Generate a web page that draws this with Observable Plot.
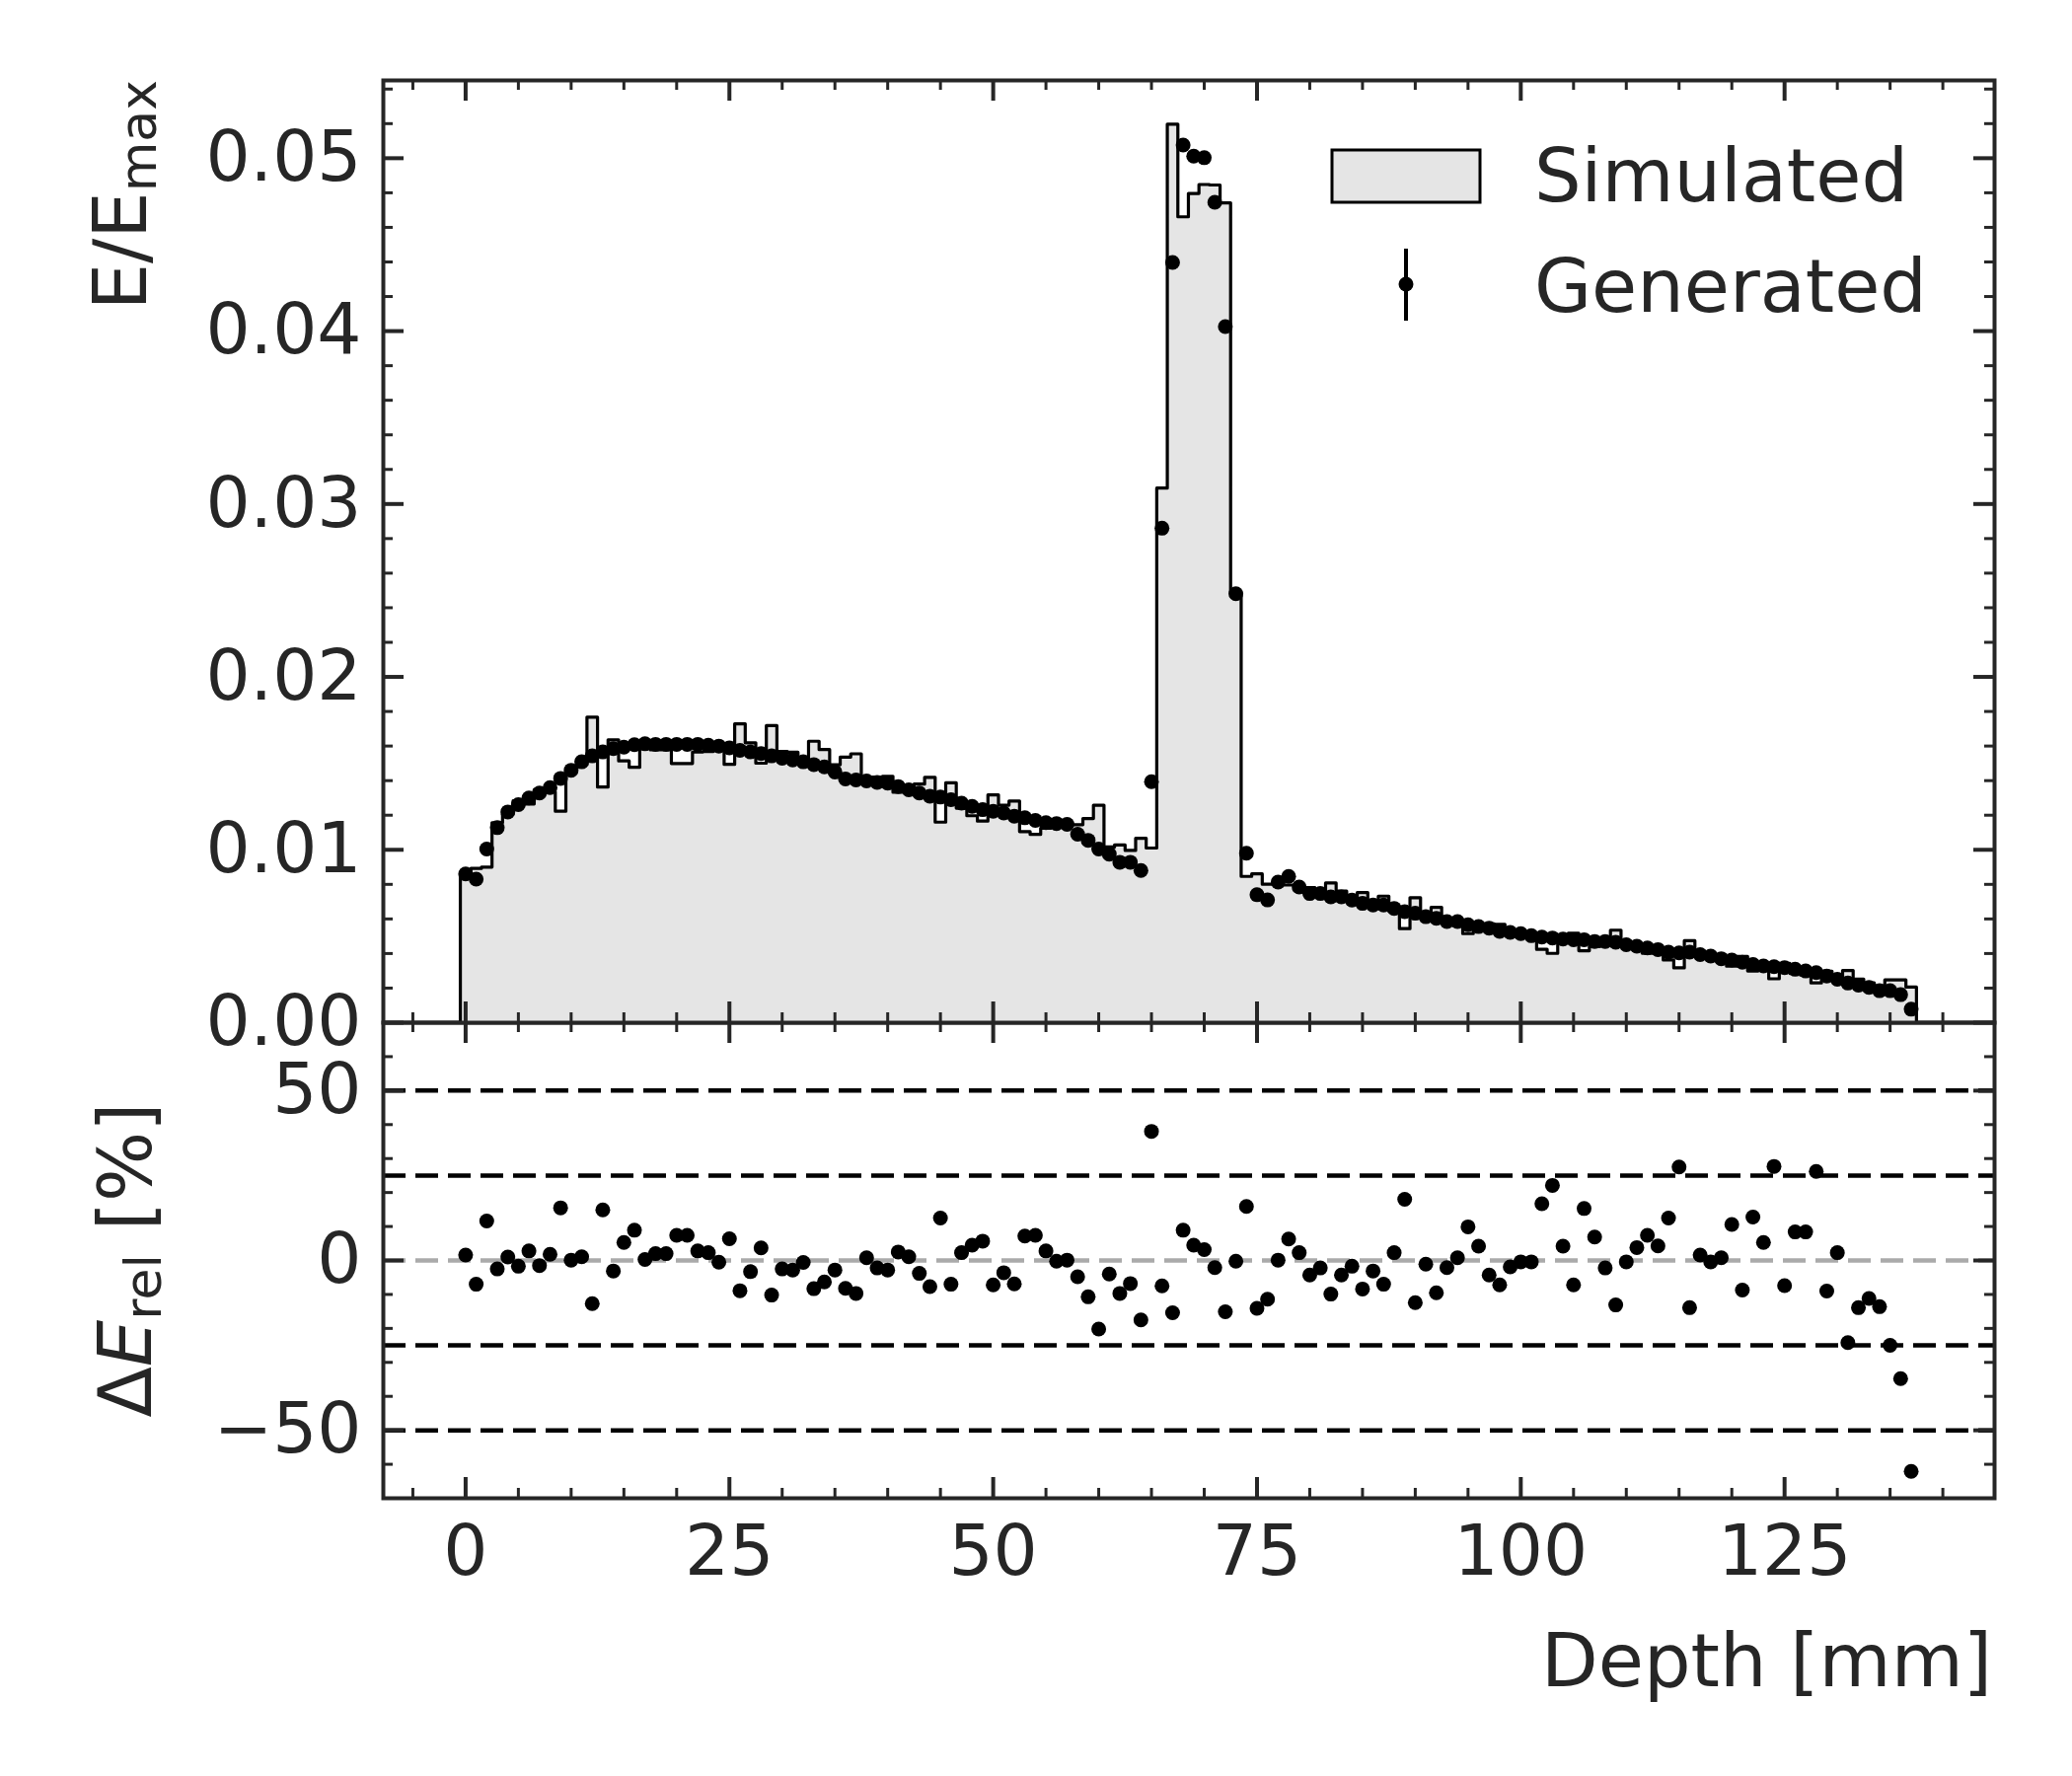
<!DOCTYPE html>
<html>
<head>
<meta charset="utf-8">
<script src="https://cdn.jsdelivr.net/npm/d3@7"></script>
<script src="https://cdn.jsdelivr.net/npm/@observablehq/plot@0.6"></script>
<style>
html, body { margin: 0; padding: 0; background: #ffffff; overflow: hidden; }
#chart { position: relative; width: 2100px; height: 1800px; background: #ffffff; }
#chart svg { position: absolute; left: 0; top: 0; }
</style>
</head>
<body>
<div id="chart"></div>
<script>
// ---------------- DATA ----------------
const depthMM = [0,1,2,3,4,5,6,7,8,9,10,11,12,13,14,15,16,17,18,19,20,21,22,23,24,25,26,27,28,29,
30,31,32,33,34,35,36,37,38,39,40,41,42,43,44,45,46,47,48,49,50,51,52,53,54,55,56,57,58,59,
60,61,62,63,64,65,66,67,68,69,70,71,72,73,74,75,76,77,78,79,80,81,82,83,84,85,86,87,88,89,
90,91,92,93,94,95,96,97,98,99,100,101,102,103,104,105,106,107,108,109,110,111,112,113,114,115,116,117,118,119,
120,121,122,123,124,125,126,127,128,129,130,131,132,133,134,135,136,137];

const simulated = [
0.00846,0.00892,0.00900,0.01157,0.01207,0.01283,0.01265,0.01348,0.01336,0.01223,
0.01459,0.01493,0.01767,0.01363,0.01636,0.01514,0.01477,0.01608,0.01578,0.01578,
0.01499,0.01499,0.01566,0.01569,0.01608,0.01494,0.01729,0.01619,0.01501,0.01718,
0.01569,0.01564,0.01518,0.01628,0.01580,0.01492,0.01536,0.01555,0.01387,0.01421,
0.01425,0.01333,0.01332,0.01380,0.01419,0.01160,0.01387,0.01241,0.01197,0.01166,
0.01318,0.01258,0.01282,0.01105,0.01089,0.01125,0.01154,0.01146,0.01145,0.01181,
0.01258,0.01016,0.01028,0.00996,0.01067,0.01010,0.03092,0.05197,0.04661,0.04796,
0.04848,0.04845,0.04742,0.02486,0.00846,0.00861,0.00801,0.00812,0.00796,0.00767,
0.00781,0.00764,0.00808,0.00761,0.00721,0.00753,0.00703,0.00732,0.00646,0.00544,
0.00723,0.00620,0.00667,0.00598,0.00580,0.00515,0.00534,0.00572,0.00569,0.00532,
0.00517,0.00505,0.00424,0.00401,0.00464,0.00517,0.00416,0.00440,0.00481,0.00535,
0.00453,0.00426,0.00402,0.00406,0.00363,0.00317,0.00474,0.00388,0.00387,0.00367,
0.00327,0.00383,0.00299,0.00311,0.00254,0.00343,0.00285,0.00276,0.00230,0.00297,
0.00245,0.00302,0.00252,0.00230,0.00214,0.00247,0.00248,0.00206];

const generated = [
0.00860,0.00830,0.01004,0.01128,0.01219,0.01261,0.01300,0.01328,0.01360,0.01413,
0.01460,0.01509,0.01543,0.01566,0.01585,0.01594,0.01608,0.01613,0.01610,0.01610,
0.01610,0.01610,0.01610,0.01605,0.01600,0.01590,0.01575,0.01566,0.01557,0.01543,
0.01530,0.01520,0.01509,0.01493,0.01480,0.01450,0.01410,0.01404,0.01398,0.01390,
0.01385,0.01366,0.01347,0.01328,0.01310,0.01305,0.01290,0.01270,0.01251,0.01232,
0.01223,0.01213,0.01194,0.01185,0.01170,0.01157,0.01152,0.01147,0.01090,0.01055,
0.01004,0.00975,0.00928,0.00928,0.00880,0.01394,0.02860,0.04397,0.05076,0.05012,
0.05003,0.04745,0.04026,0.02481,0.00980,0.00740,0.00710,0.00813,0.00846,0.00785,
0.00747,0.00747,0.00728,0.00728,0.00709,0.00690,0.00681,0.00681,0.00661,0.00642,
0.00633,0.00613,0.00604,0.00585,0.00585,0.00566,0.00556,0.00547,0.00528,0.00522,
0.00515,0.00503,0.00495,0.00490,0.00484,0.00480,0.00480,0.00470,0.00470,0.00465,
0.00451,0.00442,0.00432,0.00423,0.00408,0.00404,0.00408,0.00394,0.00385,0.00370,
0.00362,0.00350,0.00337,0.00328,0.00324,0.00318,0.00309,0.00299,0.00290,0.00270,
0.00251,0.00229,0.00217,0.00204,0.00185,0.00185,0.00162,0.00078];

const deltaRel = [
1.6,-7,11.6,-2.5,1,-1.7,2.8,-1.5,1.8,15.5,
0.1,1.1,-12.7,14.9,-3.1,5.3,8.9,0.3,2,2,
7.4,7.4,2.8,2.3,-0.5,6.4,-8.9,-3.3,3.7,-10.2,
-2.5,-2.8,-0.6,-8.3,-6.3,-2.8,-8.2,-9.7,0.8,-2.2,
-2.8,2.5,1.1,-3.8,-7.7,12.5,-7,2.3,4.5,5.7,
-7.2,-3.6,-6.9,7.2,7.4,2.8,-0.2,0.1,-4.8,-10.7,
-20.2,-4,-9.7,-6.8,-17.5,38,-7.5,-15.4,8.9,4.5,
3.2,-2.1,-15.1,-0.2,15.9,-14.1,-11.4,0.1,6.3,2.3,
-4.3,-2.2,-9.9,-4.3,-1.7,-8.4,-3.1,-7,2.3,18,
-12.4,-1.1,-9.5,-2.1,0.8,9.9,4.2,-4.3,-7.2,-1.9,
-0.4,-0.4,16.7,22.1,4.2,-7.2,15.3,6.9,-2.2,-13.1,
-0.4,3.8,7.4,4.3,12.5,27.5,-13.9,1.6,-0.4,0.8,
10.6,-8.7,12.8,5.3,27.7,-7.4,8.4,8.4,26.2,-9,
2.3,-24.2,-13.9,-11.2,-13.6,-25,-34.8,-62.1];

const xTicks = [0, 25, 50, 75, 100, 125];
const yTicksTop = [0, 0.01, 0.02, 0.03, 0.04, 0.05];
const yTicksBottom = [-50, 0, 50];
const dashedLines = [-50, -25, 25, 50];
const zeroLine = [0];

// ---------------- LAYOUT ----------------
const W = 2100, H = 1800;
const L = 388, R = 2021, T = 81, M = 1036, B = 1518;
const FW = R - L, TH = M - T, BH = B - M;
const xDomain = [-7.8, 144.9];
const ink = "#262626";
const font = "DejaVu Sans";
const majLen = 21, minLen = 10;

const xMinor = d3.range(-5, 145, 5).filter(d => d % 25 !== 0);
const yMinorTop = d3.range(0.002, 0.0545, 0.002).filter(d => Math.abs(d / 0.01 - Math.round(d / 0.01)) > 1e-6);
const yMinorBottom = [-60, -40, -30, -20, -10, 10, 20, 30, 40, 60];

// histogram outline built from bin centres (bin width 1 mm)
const outline = [{x: depthMM[0] - 0.5, y: 0}];
depthMM.forEach((d, i) => {
  outline.push({x: d - 0.5, y: simulated[i]});
  outline.push({x: d + 0.5, y: simulated[i]});
});
outline.push({x: depthMM[depthMM.length - 1] + 0.5, y: 0});

const genPts = depthMM.map((d, i) => ({x: d, y: generated[i]}));
const relPts = depthMM.map((d, i) => ({x: d, y: deltaRel[i]}));

function sideTicksY(vals, len, w) {
  return [
    Plot.tickY(vals, {y: d => d, stroke: ink, strokeWidth: w, insetRight: FW - len}),
    Plot.tickY(vals, {y: d => d, stroke: ink, strokeWidth: w, insetLeft: FW - len})
  ];
}
function sideTicksX(vals, len, w, h) {
  return [
    Plot.tickX(vals, {x: d => d, stroke: ink, strokeWidth: w, insetTop: h - len}),
    Plot.tickX(vals, {x: d => d, stroke: ink, strokeWidth: w, insetBottom: h - len})
  ];
}

const topPlot = Plot.plot({
  width: W, height: H,
  marginLeft: L, marginRight: W - R, marginTop: T, marginBottom: H - M,
  style: {background: "transparent", fontFamily: font, overflow: "visible"},
  x: {domain: xDomain, axis: null},
  y: {domain: [0, 0.0545]},
  marks: [
    Plot.areaY(outline, {x: "x", y1: 0, y2: "y", fill: "#e5e5e5", curve: "linear"}),
    Plot.line(outline, {x: "x", y: "y", stroke: "#000000", strokeWidth: 3.2, curve: "linear"}),
    Plot.dot(genPts, {x: "x", y: "y", r: 7.5, fill: "#000000"}),
    ...sideTicksY(yMinorTop, minLen, 3),
    ...sideTicksY(yTicksTop, majLen, 4),
    ...sideTicksX(xMinor, minLen, 3, TH),
    ...sideTicksX(xTicks, majLen, 4, TH),
    Plot.axisY(yTicksTop, {anchor: "left", tickSize: 0, tickPadding: 22, tickFormat: d3.format(".2f"),
      fontSize: 71, fontFamily: font, fill: ink, label: null}),
    Plot.frame({stroke: ink, strokeWidth: 4})
  ]
});

const bottomPlot = Plot.plot({
  width: W, height: H,
  marginLeft: L, marginRight: W - R, marginTop: M, marginBottom: H - B,
  style: {background: "transparent", fontFamily: font, overflow: "visible"},
  x: {domain: xDomain},
  y: {domain: [-70, 70]},
  marks: [
    Plot.ruleY(zeroLine, {y: d => d, stroke: "#aaaaaa", strokeWidth: 4.5, strokeDasharray: "23,10"}),
    Plot.ruleY(dashedLines, {y: d => d, stroke: "#000000", strokeWidth: 4.5, strokeDasharray: "23,10"}),
    Plot.dot(relPts, {x: "x", y: "y", r: 7.5, fill: "#000000"}),
    ...sideTicksY(yMinorBottom, minLen, 3),
    ...sideTicksY(yTicksBottom, majLen, 4),
    ...sideTicksX(xMinor, minLen, 3, BH),
    ...sideTicksX(xTicks, majLen, 4, BH),
    Plot.axisY(yTicksBottom, {anchor: "left", tickSize: 0, tickPadding: 22,
      fontSize: 71, fontFamily: font, fill: ink, label: null}),
    Plot.axisX(xTicks, {anchor: "bottom", tickSize: 0, tickPadding: 27,
      fontSize: 71, fontFamily: font, fill: ink, label: null}),
    Plot.frame({stroke: ink, strokeWidth: 4})
  ]
});

const chart = document.getElementById("chart");
chart.appendChild(bottomPlot);
chart.appendChild(topPlot);

// ---------------- LABELS & LEGEND ----------------
const g = d3.select(topPlot).append("g")
  .attr("font-family", font).attr("fill", ink).attr("text-anchor", "start");

// x label
g.append("text").attr("x", 2019).attr("y", 1709)
  .attr("text-anchor", "end").attr("font-size", 75).text("Depth [mm]");

// top y label  E/E_max
const t1 = g.append("text")
  .attr("transform", `translate(148,${T}) rotate(-90)`)
  .attr("text-anchor", "end").attr("font-size", 75);
t1.append("tspan").text("E/E");
t1.append("tspan").attr("font-size", 52).attr("dy", 10).text("max");

// bottom y label  ΔE_rel [%]
const t2 = g.append("text")
  .attr("transform", `translate(153,${(M + B) / 2}) rotate(-90)`)
  .attr("text-anchor", "middle").attr("font-size", 75);
t2.append("tspan").text("Δ");
t2.append("tspan").attr("font-style", "italic").text("E");
t2.append("tspan").attr("font-size", 52).attr("dy", 10).text("rel");
t2.append("tspan").attr("dy", -10).text(" [%]");

// legend
const lg = g.append("g");
lg.append("rect").attr("x", 1350).attr("y", 152).attr("width", 150).attr("height", 53)
  .attr("fill", "#e5e5e5").attr("stroke", "#000000").attr("stroke-width", 3);
lg.append("text").attr("x", 1555).attr("y", 204).attr("text-anchor", "start")
  .attr("font-size", 75).text("Simulated");
lg.append("line").attr("x1", 1425).attr("x2", 1425).attr("y1", 252).attr("y2", 325)
  .attr("stroke", "#000000").attr("stroke-width", 4);
lg.append("circle").attr("cx", 1425).attr("cy", 288).attr("r", 7.5).attr("fill", "#000000");
lg.append("text").attr("x", 1555).attr("y", 316).attr("text-anchor", "start")
  .attr("font-size", 75).text("Generated");
</script>
</body>
</html>
